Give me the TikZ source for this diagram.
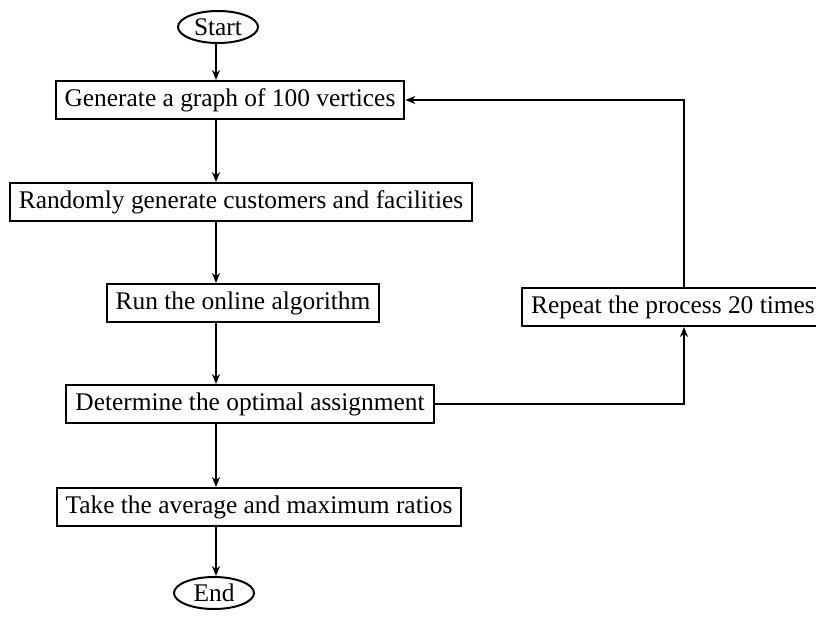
\documentclass[tikz,border=0pt]{standalone}
\usepackage{fontspec}
\setmainfont{Liberation Serif}
\usetikzlibrary{arrows.meta,shapes.geometric}

\begin{document}
\begin{tikzpicture}[
  x=0.5pt, y=-0.5pt,
  box/.style={draw=black, line width=1pt, inner xsep=4.5pt, inner ysep=0pt, minimum height=19pt, font=\fontsize{12.7}{15}\selectfont},
  term/.style={ellipse, draw=black, line width=1pt, inner sep=0pt, minimum width=40pt, minimum height=16pt, font=\fontsize{12.7}{15}\selectfont},
  arrow/.style={-{Stealth[length=5pt,width=4pt]}, line width=1pt}
]
\useasboundingbox (0,0) rectangle (816,617);
\node[term] (start) at (218,27) {Start};
\node[box] (gen) at (230,100) {Generate a graph of 100 vertices};
\node[box] (rand) at (241,202) {Randomly generate customers and facilities};
\node[box] (run) at (243,303) {Run the online algorithm};
\node[box] (det) at (250,404) {Determine the optimal assignment};
\node[box] (take) at (259,507) {Take the average and maximum ratios};
\node[term] (end) at (214,593) {End};
\node[box] (rep) at (673,307) {Repeat the process 20 times};
\coordinate (axis) at (216,0);
\coordinate (loop) at (684,0);

\draw[arrow] (start.south -| axis) -- (gen.north -| axis);
\draw[arrow] (gen.south -| axis) -- (rand.north -| axis);
\draw[arrow] (rand.south -| axis) -- (run.north -| axis);
\draw[arrow] (run.south -| axis) -- (det.north -| axis);
\draw[arrow] (det.south -| axis) -- (take.north -| axis);
\draw[arrow] (take.south -| axis) -- (end.north -| axis);
\draw[arrow] (det.east) -- (det.east -| loop) -- (loop |- rep.south);
\draw[arrow] (loop |- rep.north) |- (gen.east);
\end{tikzpicture}
\end{document}
